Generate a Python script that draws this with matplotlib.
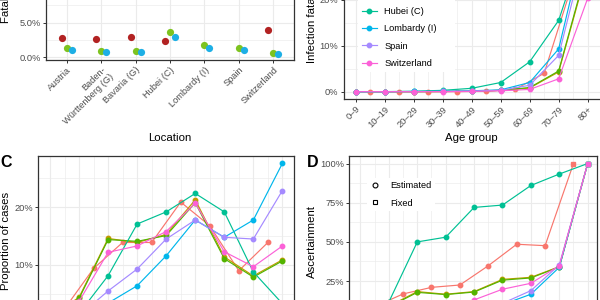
import numpy as np
import matplotlib
matplotlib.use("Agg")
import matplotlib.pyplot as plt
from matplotlib.ticker import MultipleLocator, FuncFormatter
from matplotlib.lines import Line2D

plt.rcParams['font.family'] = ['Liberation Sans', 'DejaVu Sans']

# ---------------- data ----------------
locations = ["Austria", "Baden-\nWürttenberg (G)", "Bavaria (G)", "Hubei (C)",
             "Lombardy (I)", "Spain", "Switzerland"]
a_series1 = [2.84, 2.60, 2.90, 2.37, np.nan, np.nan, 3.95]   # dark red
a_series2 = [1.32, 0.98, 0.93, 3.66, 1.75, 1.32, 0.60]       # green
a_series3 = [1.08, 0.75, 0.75, 2.95, 1.37, 1.08, 0.50]       # blue

age_groups = ["0–9", "10–19", "20–29", "30–39", "40–49", "50–59", "60–69", "70–79", "80+"]
regions = ["Austria", "Baden-\nWürttenberg (G)", "Bavaria (G)", "Hubei (C)",
           "Lombardy (I)", "Spain", "Switzerland"]
region_colors = ['#F8766D', '#C49A00', '#53B400', '#00C094', '#00B6EB', '#A58AFF', '#FB61D7']

# infection fatality ratio (%) by age group
ifr_austria = [0.0, 0.0, 0.0, 0.02, 0.1, 0.5, 4.0, 24.0]          # shifted age groups
ifr_baden = [0.0, 0.0, 0.02, 0.05, 0.1, 0.3, 0.8, 4.3, 27.0]
ifr_bavaria = [0.0, 0.0, 0.02, 0.05, 0.1, 0.3, 0.9, 4.5, 27.5]
ifr_hubei = [0.0, 0.02, 0.1, 0.3, 0.74, 2.0, 6.5, 15.5, 34.6]
ifr_lombardy = [0.0, 0.0, 0.05, 0.1, 0.2, 0.4, 2.0, 9.3, 35.7]
ifr_spain = [0.0, 0.0, 0.03, 0.05, 0.15, 0.3, 1.4, 7.9, 33.0]
ifr_switzerland = [0.0, 0.0, 0.0, 0.02, 0.05, 0.2, 0.5, 2.8, 20.3]

# proportion of cases (%) by age group
prop_austria = [2.4, 9.4, 13.9, 13.9, 20.9, 16.8, 9.0, 13.9]
prop_baden = [1.0, 4.4, 14.6, 13.9, 15.3, 21.3, 11.4, 8.1, 10.9]
prop_bavaria = [1.0, 4.2, 14.4, 14.1, 15.1, 20.8, 11.1, 7.9, 10.7]
prop_hubei = [0.5, 1.6, 8.15, 17.1, 19.2, 22.4, 19.2, 8.8, 3.3]
prop_lombardy = [0.4, 0.8, 3.4, 6.4, 11.6, 17.8, 14.8, 17.8, 27.6]
prop_spain = [0.5, 1.2, 5.5, 9.3, 14.5, 17.8, 14.8, 14.5, 22.9]
prop_switzerland = [0.5, 3.7, 12.2, 13.3, 15.8, 20.7, 12.3, 9.7, 13.3]

# ascertainment (%) by age group
asc_austria = [8.7, 16.8, 21.0, 22.5, 34.8, 48.5, 47.6, 100.0]
asc_baden = [4.0, 9.0, 18.3, 16.6, 18.3, 26.1, 27.4, 34.2, 100.0]
asc_bavaria = [4.0, 8.5, 17.8, 16.4, 18.0, 25.6, 27.0, 34.0, 100.0]
asc_hubei = [5.0, 11.7, 50.0, 53.0, 72.0, 73.5, 86.0, 93.3, 100.0]
asc_lombardy = [1.0, 1.5, 2.0, 3.0, 6.0, 10.0, 16.6, 33.8, 100.0]
asc_spain = [1.5, 2.0, 3.0, 5.0, 8.0, 10.8, 18.9, 35.3, 100.0]
asc_switzerland = [2.0, 3.0, 6.0, 8.0, 13.0, 19.8, 23.6, 34.8, 100.0]
# last age group is fixed (square), others estimated (circle)
asc_fixed_last = [True, True, True, True, True, True, True]

ifr_all = [ifr_austria, ifr_baden, ifr_bavaria, ifr_hubei, ifr_lombardy, ifr_spain, ifr_switzerland]
prop_all = [prop_austria, prop_baden, prop_bavaria, prop_hubei, prop_lombardy, prop_spain, prop_switzerland]
asc_all = [asc_austria, asc_baden, asc_bavaria, asc_hubei, asc_lombardy, asc_spain, asc_switzerland]

# ---------------- layout helpers ----------------
W, H = 600, 300
fig = plt.figure(figsize=(6, 3), dpi=100)


def ax_px(left, top, right, bottom):
    return fig.add_axes([left / W, 1 - bottom / H, (right - left) / W, (bottom - top) / H])


TICK_FS = 6.7
TITLE_FS = 8.2
LW = 0.85
MS = 3.2


def style(ax):
    ax.set_facecolor('white')
    for s in ax.spines.values():
        s.set_color('#333333')
        s.set_linewidth(0.9)
    ax.grid(True, which='major', color='#EBEBEB', lw=0.8)
    ax.grid(True, which='minor', color='#EBEBEB', lw=0.45)
    ax.set_axisbelow(True)
    ax.tick_params(which='major', length=2.2, width=0.7, color='#333333',
                   labelsize=TICK_FS, labelcolor='#4D4D4D', pad=1.5)
    ax.tick_params(which='minor', length=0)


pct0 = FuncFormatter(lambda v, _: f"{v:.0f}%")
pct1 = FuncFormatter(lambda v, _: f"{v:.1f}%")


def x_for(i, n):
    return np.arange(n) + (0.5 if i == 0 else 0.0)


# ---------------- Panel A ----------------
axA = ax_px(46.4, -100, 293.6, 60)
style(axA)
xl = np.arange(len(locations))
for vals, col, off in [(a_series1, '#B22222', -0.15), (a_series2, '#7DC31F', 0.0),
                       (a_series3, '#1DAFE5', 0.15)]:
    axA.scatter(xl + off, vals, s=27, color=col, linewidths=0, zorder=3)
axA.set_xlim(-0.6, 6.6)
axA.set_ylim(-0.36, 22.6)
axA.set_xticks(xl)
axA.set_xticklabels(locations, rotation=45, ha='right', va='top', rotation_mode='anchor')
axA.yaxis.set_major_locator(MultipleLocator(5))
axA.yaxis.set_minor_locator(MultipleLocator(2.5))
axA.yaxis.set_major_formatter(pct1)
axA.grid(False, which='minor', axis='x')

# ---------------- Panel B ----------------
axB = ax_px(343.5, -77.6, 601, 99.3)
style(axB)
for i, (vals, col) in enumerate(zip(ifr_all, region_colors)):
    axB.plot(x_for(i, len(vals)), vals, color=col, lw=LW, marker='o', ms=MS, zorder=3)
axB.set_xlim(-0.42, 8.46)
axB.set_ylim(-1.65, 36.8)
axB.set_xticks(np.arange(9))
axB.set_xticklabels(age_groups, rotation=45, ha='right', va='top', rotation_mode='anchor')
axB.xaxis.set_minor_locator(MultipleLocator(0.5))
axB.yaxis.set_major_locator(MultipleLocator(10))
axB.yaxis.set_minor_locator(MultipleLocator(5))
axB.yaxis.set_major_formatter(pct0)

handles = [Line2D([], [], color=c, lw=LW, marker='o', ms=MS) for c in region_colors]
legB = axB.legend(handles, regions, loc='lower left',
                  bbox_to_anchor=(358 / W, 228.2 / H), bbox_transform=fig.transFigure,
                  fontsize=TICK_FS, frameon=True, fancybox=False, framealpha=1,
                  facecolor='white', edgecolor='none', borderpad=0.4, borderaxespad=0,
                  handlelength=1.61, handletextpad=0.82, labelspacing=0.9)

# ---------------- Panel C ----------------
axC = ax_px(38.4, 155.7, 294, 328)
style(axC)
for i in range(len(prop_all)):
    vals = prop_all[i]
    axC.plot(x_for(i, len(vals)), vals, color=region_colors[i], lw=LW, marker='o', ms=MS, zorder=3)
axC.set_xlim(-0.4, 8.4)
axC.set_ylim(-0.92, 28.94)
axC.set_xticks(np.arange(9))
axC.set_xticklabels(age_groups, rotation=45, ha='right', va='top', rotation_mode='anchor')
axC.xaxis.set_minor_locator(MultipleLocator(0.5))
axC.yaxis.set_major_locator(MultipleLocator(10))
axC.yaxis.set_minor_locator(MultipleLocator(5))
axC.yaxis.set_major_formatter(pct0)

# ---------------- Panel D ----------------
axD = ax_px(349.3, 155.7, 596.7, 328.1)
style(axD)
for i, (vals, col) in enumerate(zip(asc_all, region_colors)):
    xs = x_for(i, len(vals))
    vals = np.asarray(vals)
    axD.plot(xs, vals, color=col, lw=LW, zorder=3)
    est = np.ones(len(vals), bool)
    if asc_fixed_last[i]:
        est[-1] = False
    axD.plot(xs[est], vals[est], ls='none', marker='o', ms=MS, color=col, zorder=4)
    axD.plot(xs[~est], vals[~est], ls='none', marker='s', ms=MS, color=col, zorder=4)
axD.set_xlim(-0.394, 8.317)
axD.set_ylim(-5, 105)
axD.set_xticks(np.arange(9))
axD.set_xticklabels(age_groups, rotation=45, ha='right', va='top', rotation_mode='anchor')
axD.xaxis.set_minor_locator(MultipleLocator(0.5))
axD.yaxis.set_major_locator(MultipleLocator(25))
axD.yaxis.set_minor_locator(MultipleLocator(12.5))
axD.yaxis.set_major_formatter(pct0)

hD = [Line2D([], [], ls='none', marker='o', mfc='none', mec='black', ms=3.5, mew=0.8),
      Line2D([], [], ls='none', marker='s', mfc='none', mec='black', ms=3.5, mew=0.8)]
axD.legend(hD, ["Estimated", "Fixed"], loc='lower left',
           bbox_to_anchor=(366.6 / W, 88.6 / H), bbox_transform=fig.transFigure,
           fontsize=TICK_FS, frameon=True, fancybox=False, framealpha=1,
           facecolor='white', edgecolor='none', borderpad=0.4, borderaxespad=0,
           handlelength=1.0, handletextpad=1.11, labelspacing=0.9)

# ---------------- text ----------------
fig.text(170 / W, 1 - 137.7 / H, "Location", ha='center', va='center', fontsize=TITLE_FS)
fig.text(471.7 / W, 1 - 137.7 / H, "Age group", ha='center', va='center', fontsize=TITLE_FS)
kw = dict(rotation=90, rotation_mode='anchor', va='baseline', fontsize=TITLE_FS)
fig.text(9.0 / W, 1 - 23.3 / H, "Fatality ratio", ha='left', **kw)
fig.text(315 / W, 1 - 63.3 / H, "Infection fatality ratio", ha='left', **kw)
fig.text(8.7 / W, 1 - 191.7 / H, "Proportion of cases", ha='right', **kw)
fig.text(315 / W, 1 - 241.7 / H, "Ascertainment", ha='center', **kw)
fig.text(0.5 / W, 1 - 166.5 / H, "C", fontweight='bold', fontsize=11.5, ha='left', va='baseline')
fig.text(306.5 / W, 1 - 166.5 / H, "D", fontweight='bold', fontsize=11.5, ha='left', va='baseline')

fig.savefig("out.png", dpi=100)
